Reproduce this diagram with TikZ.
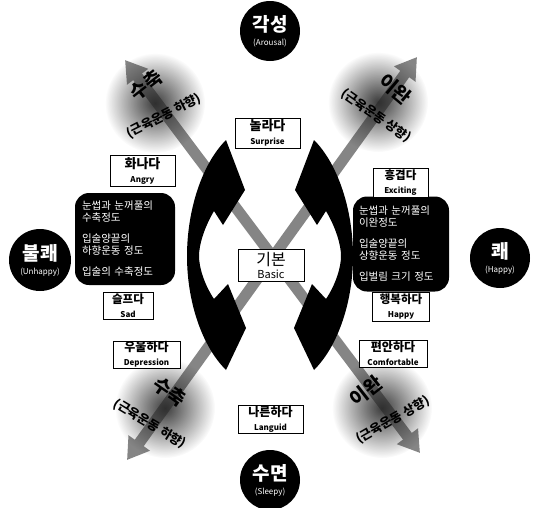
\documentclass[tikz,border=0pt]{standalone}
\usepackage{fontspec}
\newfontfamily\kr{Noto Sans CJK KR}
\usetikzlibrary{arrows.meta,fadings}

\pgfdeclarelayer{back}
\pgfsetlayers{back,main}

% soft dark spot behind the direction words
\tikzfading[name=blobfade, inner color=transparent!10, outer color=transparent!100]

% two-line emotion label: Korean word over its English name
\newcommand\emo[3][12]{{\bfseries\fontsize{#1}{#1}\selectfont #2}\\[2pt]{\bfseries\fontsize{8}{8}\selectfont #3}}
% pole label inside a black disc
\newcommand\polelabel[2]{{\bfseries\fontsize{19}{19}\selectfont #1}\\[2pt]{\fontsize{8}{8}\selectfont (#2)}}

\begin{document}
\begin{tikzpicture}[x=1pt,y=-1pt,
  every node/.style={font=\kr},
  pole/.style={circle, fill=black, text=white, minimum size=60pt, inner sep=0pt, align=center},
  lbl/.style={draw=black, line width=0.6pt, fill=white, align=center, inner sep=0pt},
  panel/.style={fill=black, rounded corners=14pt, text=white, align=left, inner sep=0pt,
                font=\kr\fontsize{10.5}{11.5}\selectfont},
  axisline/.style={draw=black, line width=0.6pt},
  gaxis/.style={draw=black!48, line width=11pt,
                {Triangle[width=25pt,length=21pt]}-{Triangle[width=25pt,length=21pt]}},
  bigword/.style={font=\kr\bfseries\fontsize{19}{19}\selectfont, text=black, inner sep=0pt},
  subword/.style={font=\kr\bfseries\fontsize{12.5}{12.5}\selectfont, text=black, inner sep=0pt},
  crescent/.pic={
    \fill[black] (226,140) -- (245,190) -- (223,225) -- (214,211)
      .. controls (204,228) and (199,245) .. (199,256)
      .. controls (199,267) and (204,284) .. (214,299)
      -- (228,284) -- (246,328) -- (226,370)
      .. controls (201,345) and (187,300) .. (187,256)
      .. controls (187,212) and (201,165) .. (226,140) -- cycle;
  }
]
\useasboundingbox (0,0) rectangle (534,507);
\fill[white] (0,0) rectangle (534,507);

% poles of the two axes
\node[pole] (arousal) at (270,31) {\polelabel{각성}{Arousal}};
\node[pole] (sleepy)  at (270,480) {\polelabel{수면}{Sleepy}};
\node[pole, minimum size=62pt] (unhappy) at (40,260) {\polelabel{불쾌}{Unhappy}};
\node[pole] (happy)   at (500,258) {\polelabel{쾌}{Happy}};

\begin{pgfonlayer}{back}
  \draw[axisline] (arousal) -- (sleepy);
  \draw[axisline] (unhappy) -- (happy);
\end{pgfonlayer}

% diagonal muscle-movement arrows
\coordinate (tl) at (125,60);
\coordinate (br) at (420,453);
\coordinate (tr) at (417,57);
\coordinate (bl) at (127,460);
\draw[gaxis] (bl) -- (tr);
\draw[gaxis] (tl) -- (br);

% dark spots on the diagonals
\fill[black!85, path fading=blobfade] (155,103) circle (50pt);
\fill[black!85, path fading=blobfade] (378,102) circle (50pt);
\fill[black!85, path fading=blobfade] (165,408) circle (50pt);
\fill[black!85, path fading=blobfade] (382,408) circle (50pt);

% curved black arrows around the centre
\pic at (0,0) {crescent};
\pic[xscale=-1] at (540,0) {crescent};

% facial-feature panels
\node[panel, minimum width=100pt, minimum height=92pt, text width=86pt] (leftpanel) at (125,239)
  {눈썹과 눈꺼풀의\\수축정도\\[10pt]입술양끝의\\하향운동 정도\\[10pt]입술의 수축정도};
\node[panel, minimum width=96pt, minimum height=95pt, text width=84pt] (rightpanel) at (401,244)
  {눈썹과 눈꺼풀의\\이완정도\\[10pt]입술양끝의\\상향운동 정도\\[10pt]입벌림 크기 정도};

% emotion labels
\node[lbl, minimum width=65pt, minimum height=30pt] (surprise) at (267.5,133) {\emo[13]{놀라다}{Surprise}};
\node[lbl, minimum width=65pt, minimum height=31pt] (angry) at (142.5,171) {\emo[13]{화나다}{Angry}};
\node[lbl, minimum width=55pt, minimum height=29pt] (exciting) at (400.5,182.5) {\emo[11.5]{흥겹다}{Exciting}};
\node[lbl, minimum width=50pt, minimum height=27pt] (sad) at (128,306) {\emo[11.5]{슬프다}{Sad}};
\node[lbl, minimum width=57pt, minimum height=29pt] (happylbl) at (401,307) {\emo[11.5]{행복하다}{Happy}};
\node[lbl, minimum width=66pt, minimum height=32pt] (basic) at (271,265)
  {{\fontsize{16}{16}\selectfont 기본}\\[1pt]{\fontsize{11}{11}\selectfont Basic}};
\node[lbl, minimum width=67pt, minimum height=27pt] (depression) at (146.5,354.5) {\emo{우울하다}{Depression}};
\node[lbl, minimum width=68pt, minimum height=27pt] (comfortable) at (393,353.5) {\emo{편안하다}{Comfortable}};
\node[lbl, minimum width=65pt, minimum height=28pt] (languid) at (270.5,419) {\emo{나른하다}{Languid}};

% direction words on the spots
\node[bigword, rotate=38] (tlword) at (146,85) {수축};
\node[subword, rotate=27] (tlsub) at (164,116) {(근육운동 하향)};
\node[bigword, rotate=-40] (trword) at (395,89) {이완};
\node[subword, rotate=-35] (trsub) at (376,116) {(근육운동 상향)};
\node[bigword, rotate=-35] (blword) at (170,392) {수축};
\node[subword, rotate=-31] (blsub) at (150,424) {(근육운동 하향)};
\node[bigword, rotate=38] (brword) at (366,391) {이완};
\node[subword, rotate=30] (brsub) at (393,420) {(근육운동 상향)};
\end{tikzpicture}
\end{document}
